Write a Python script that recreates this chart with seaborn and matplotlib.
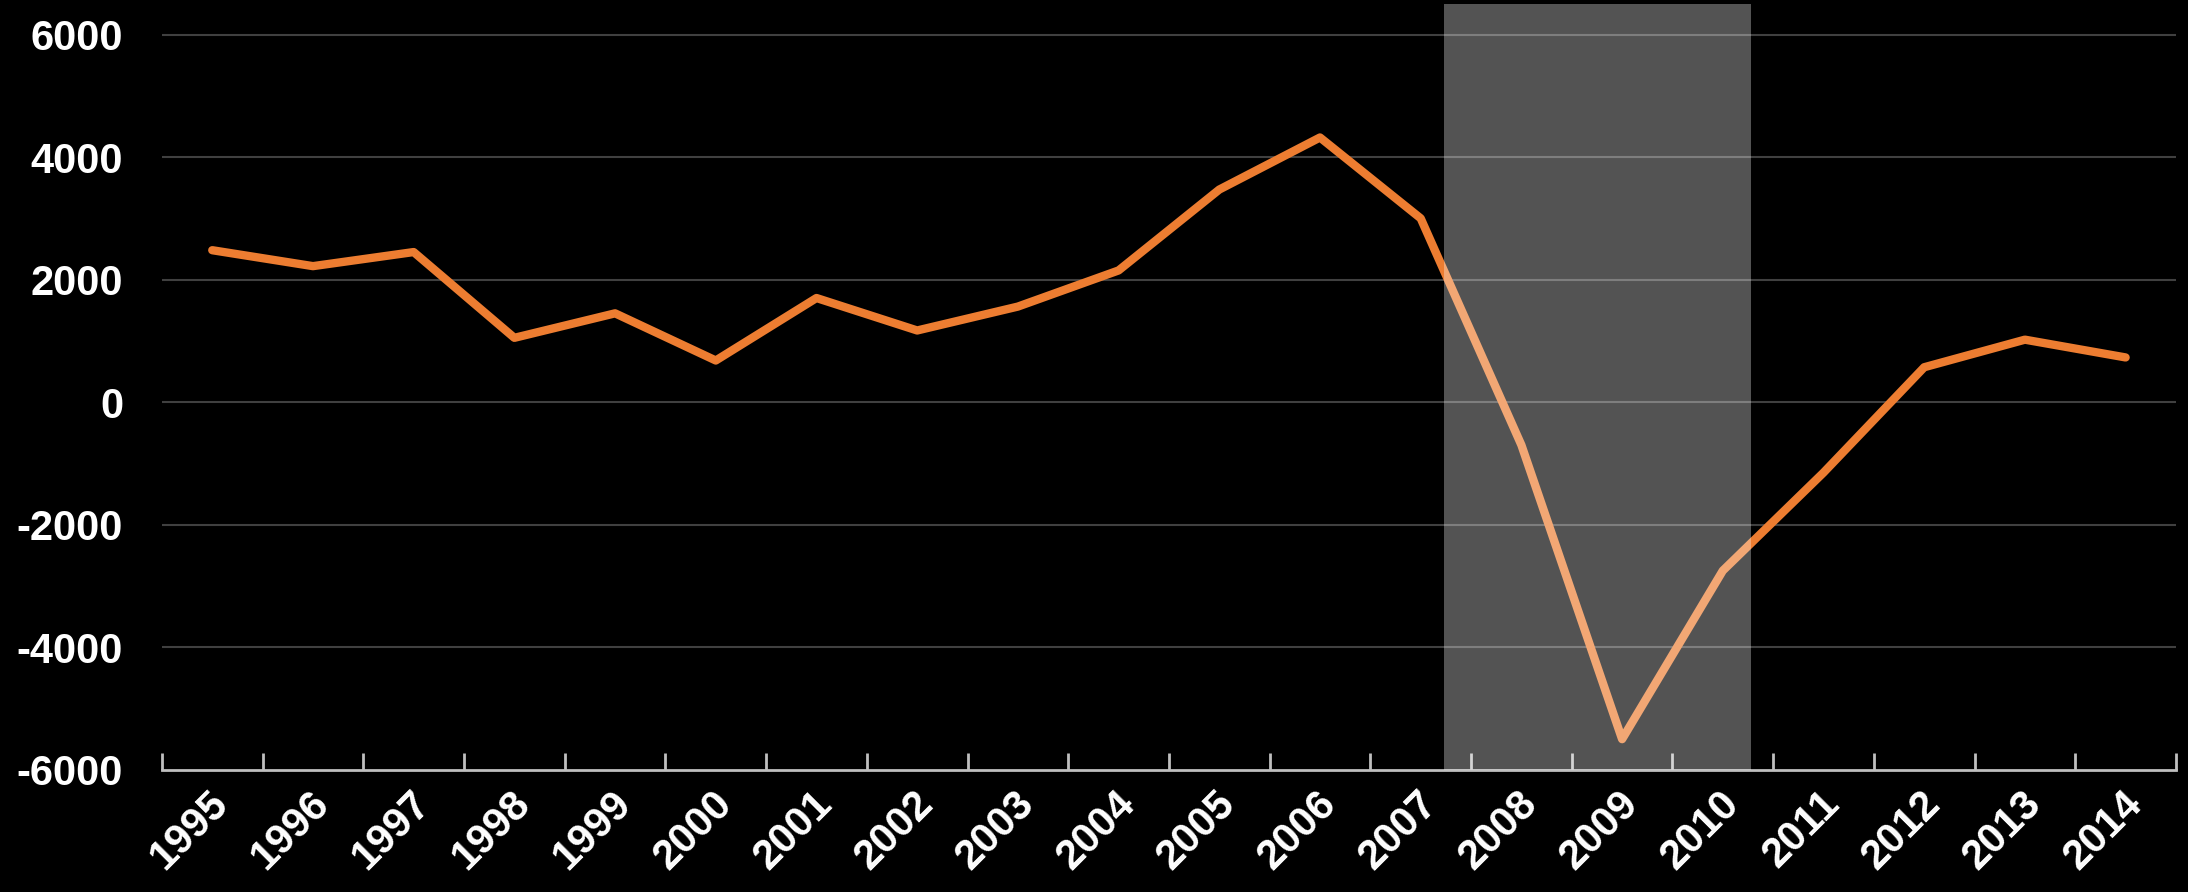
import numpy as np
import pandas as pd
import matplotlib
matplotlib.use("Agg")
import matplotlib.pyplot as plt
import seaborn as sns

# values
years = ["1995", "1996", "1997", "1998", "1999", "2000", "2001", "2002", "2003", "2004",
         "2005", "2006", "2007", "2008", "2009", "2010", "2011", "2012", "2013", "2014"]
values = [2480, 2220, 2450, 1050, 1450, 680, 1700, 1170, 1560, 2150,
          3470, 4320, 3000, -700, -5500, -2750, -1150, 570, 1020, 730]
y_ticks = [-6000, -4000, -2000, 0, 2000, 4000, 6000]
# recession band (in category units) and its top
band_start, band_end, band_top = 12.23, 15.28, 6500

sns.set_style("dark")
plt.rcParams["font.family"] = ["Liberation Sans", "DejaVu Sans"]
plt.rcParams["font.weight"] = "bold"

df = pd.DataFrame({"pos": np.arange(len(years)), "value": values})

fig = plt.figure(figsize=(21.88, 8.92), dpi=100, facecolor="black")
ax = fig.add_axes([0.074, 0.137, 0.9205, 0.86])
ax.set_facecolor("black")

# gridlines
for t in y_ticks[1:]:
    ax.axhline(t, color="#404040", lw=1.5, zorder=1)

sns.lineplot(data=df, x="pos", y="value", ax=ax, color="#ED7D31", lw=6,
             solid_capstyle="round", zorder=2)

# translucent band drawn on top of the line
ax.fill_between([band_start, band_end], -6000, band_top, color="white",
                alpha=0.33, lw=0, zorder=3)

ax.set_xlim(-0.5, len(years) - 0.5)
ax.set_ylim(-6000, 6520)

ax.set_yticks(y_ticks)
ax.set_yticklabels([str(t) for t in y_ticks], color="white", fontsize=30, fontweight="bold")
ax.tick_params(axis="y", length=0, pad=28)

# category boundaries as major ticks, labels on minor ticks at centres
ax.set_xticks(np.arange(len(years) + 1) - 0.5)
ax.set_xticklabels([])
ax.set_xticks(np.arange(len(years)), minor=True)
ax.set_xticklabels(years, minor=True, rotation=45, ha="right", rotation_mode="anchor",
                   color="white", fontsize=30, fontweight="bold")
ax.tick_params(axis="x", which="major", direction="in", length=12, width=2,
               color="#BFBFBF", bottom=True)
ax.tick_params(axis="x", which="minor", length=0, pad=10)
for lab in ax.get_xticklabels(minor=True):
    lab.set_transform(lab.get_transform() + matplotlib.transforms.ScaledTranslation(-0.04, 0, fig.dpi_scale_trans))

ax.set_xlabel("")
ax.set_ylabel("")
ax.grid(False)
for side in ["left", "top", "right"]:
    ax.spines[side].set_visible(False)
ax.spines["bottom"].set_color("#BFBFBF")
ax.spines["bottom"].set_linewidth(2)

fig.savefig("out.png", dpi=100, facecolor="black")
